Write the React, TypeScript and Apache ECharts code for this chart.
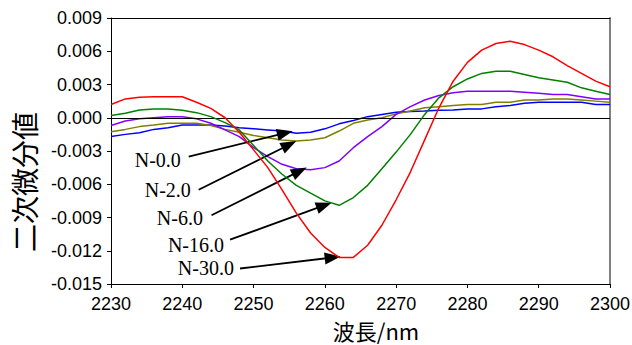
import React, { useEffect, useRef } from "react";
import * as echarts from "echarts";

const wavelengths = [
  2230, 2232, 2234, 2236, 2238, 2240, 2242, 2244, 2246, 2248, 2250, 2252,
  2254, 2256, 2258, 2260, 2262, 2264, 2266, 2268, 2270, 2272, 2274, 2276,
  2278, 2280, 2282, 2284, 2286, 2288, 2290, 2292, 2294, 2296, 2298, 2300,
];

const n00 = [
  -0.0017, -0.0015, -0.00135, -0.00105, -0.0009, -0.00066, -0.00066, -0.00066,
  -0.00075, -0.0009, -0.001, -0.0011, -0.0012, -0.0014, -0.0013, -0.001,
  -0.00055, -0.00024, 0.0001, 0.0003, 0.0005, 0.00056, 0.0006, 0.00067,
  0.0007, 0.0008, 0.0008, 0.001, 0.0011, 0.0013, 0.0014, 0.0014, 0.0014,
  0.0014, 0.0012, 0.0012,
];
const n20 = [
  -0.00126, -0.00105, -0.0008, -0.00066, -0.0005, -0.0005, -0.0005, -0.0007,
  -0.00105, -0.0013, -0.0016, -0.0018, -0.002, -0.0021, -0.002, -0.0018,
  -0.0012, -0.0005, -0.0002, 0.0, 0.00035, 0.0006, 0.0009, 0.001, 0.0011,
  0.0012, 0.0012, 0.0014, 0.0014, 0.0016, 0.0016, 0.0017, 0.0017, 0.0016,
  0.0015, 0.0014,
];
const n60 = [
  -0.0007, -0.0003, -0.0001, 0.0, 0.0001, 0.0001, -0.0001, -0.0005, -0.0011,
  -0.0017, -0.0027, -0.0035, -0.0042, -0.0046, -0.0047, -0.0045, -0.0039,
  -0.0027, -0.0017, -0.0008, 0.0003, 0.001, 0.0016, 0.002, 0.00225, 0.0024,
  0.0024, 0.0024, 0.0024, 0.0023, 0.0022, 0.0021, 0.0021, 0.0019, 0.0017,
  0.0017,
];
const n160 = [
  0.0002, 0.0004, 0.0007, 0.0008, 0.0008, 0.00067, 0.00046, 0.0001, -0.00044,
  -0.0011, -0.0025, -0.0039, -0.0051, -0.0061, -0.0068, -0.0075, -0.0079,
  -0.0072, -0.0061, -0.0046, -0.0031, -0.0015, 0.0003, 0.0018, 0.0028,
  0.0035, 0.004, 0.0042, 0.0042, 0.0039, 0.0036, 0.0034, 0.0032, 0.0027,
  0.0024, 0.0021,
];
const n300 = [
  0.0012, 0.0017, 0.00185, 0.0019, 0.0019, 0.0019, 0.0014, 0.00085, 0.0,
  -0.0013, -0.0029, -0.0045, -0.0065, -0.0086, -0.0104, -0.0117, -0.0126,
  -0.0126, -0.0115, -0.0097, -0.0074, -0.0049, -0.002, 0.0009, 0.0033, 0.005,
  0.0061, 0.0067, 0.0069, 0.0066, 0.0061, 0.0055, 0.0047, 0.004, 0.0033,
  0.0028,
];

const seriesNames = ["N-0.0", "N-2.0", "N-6.0", "N-16.0", "N-30.0"];
const seriesValues = [n00, n20, n60, n160, n300];
const seriesColors = ["#0000FF", "#808000", "#8000FF", "#008000", "#FF0000"];

// annotation label anchors (right edge of text), arrow starts and arrow-head centres, in data units
const labelAnchors = [
  [2239.8, -0.00377],
  [2241.2, -0.0065],
  [2242.9, -0.009],
  [2245.85, -0.0115],
  [2247.25, -0.0136],
];
const arrowStarts = [
  [2240.9, -0.0035],
  [2242.3, -0.0065],
  [2244.1, -0.0088],
  [2246.7, -0.011],
  [2248.1, -0.0136],
];
const arrowEnds = [
  [2254.4, -0.00138],
  [2255.0, -0.00243],
  [2256.45, -0.00482],
  [2259.9, -0.00791],
  [2261.1, -0.01261],
];

const xTicks = { min: 2230, max: 2300, interval: 10 };
const yTicks = { min: -0.015, max: 0.009, interval: 0.003 };
const xTitle = "波長/nm";
const yTitle = "二次微分値";

export default function App() {
  const ref = useRef<HTMLDivElement>(null);
  useEffect(() => {
    document.body.style.margin = "0";
    if (!ref.current) return;
    const chart = echarts.init(ref.current, undefined, { renderer: "svg" });
    const lineSeries = seriesNames.map((name, i) => ({
      name,
      type: "line",
      data: wavelengths.map((w, j) => [w, seriesValues[i][j]]),
      showSymbol: false,
      symbol: "none",
      lineStyle: { color: seriesColors[i], width: 1.5 },
      itemStyle: { color: seriesColors[i] },
      silent: true,
      z: 2 + i,
    }));
    const labelFont = { fontFamily: "Liberation Sans", fontSize: 18, color: "#000" };
    chart.setOption({
      animation: false,
      backgroundColor: "#fff",
      grid: { left: 111, right: 22, top: 18, bottom: 61, outerBoundsMode: "none", containLabel: false },
      xAxis: [
        {
          type: "value",
          ...xTicks,
          position: "bottom",
          axisLine: { show: true, onZero: false, lineStyle: { color: "#000", width: 1 } },
          axisTick: { show: true, inside: false, length: 4, lineStyle: { color: "#000" } },
          axisLabel: { ...labelFont, margin: 13, lineHeight: 14, formatter: (v: number) => String(v) },
          splitLine: { show: false },
        },
        {
          type: "value",
          ...xTicks,
          position: "top",
          axisLine: { show: true, onZero: false, lineStyle: { color: "#000", width: 1 } },
          axisTick: { show: false },
          axisLabel: { show: false },
          splitLine: { show: false },
        },
      ],
      yAxis: [
        {
          type: "value",
          ...yTicks,
          position: "left",
          axisLine: { show: true, onZero: false, lineStyle: { color: "#000", width: 1 } },
          axisTick: { show: true, inside: false, length: 4, lineStyle: { color: "#000" } },
          axisLabel: { ...labelFont, margin: 9, formatter: (v: number) => v.toFixed(3) },
          splitLine: { show: false },
        },
        {
          type: "value",
          ...yTicks,
          position: "right",
          axisLine: { show: true, onZero: false, lineStyle: { color: "#808080", width: 2 } },
          axisTick: { show: false },
          axisLabel: { show: false },
          splitLine: { show: false },
        },
      ],
      series: [
        ...lineSeries,
        {
          name: "annotations",
          type: "scatter",
          symbolSize: 0,
          silent: true,
          z: 10,
          data: seriesNames.map((name, i) => ({ name, value: labelAnchors[i] })),
          label: {
            show: true,
            position: "left",
            distance: 0,
            formatter: "{b}",
            fontFamily: "Liberation Serif",
            fontSize: 20,
            color: "#000",
            textBorderWidth: 0,
            opacity: 1,
          },
          markLine: {
            silent: true,
            animation: false,
            symbol: ["none", "triangle"],
            symbolSize: [12, 16],
            label: { show: false },
            lineStyle: { color: "#000", width: 1.8, type: "solid", opacity: 1 },
            itemStyle: { color: "#000" },
            emphasis: { disabled: true },
            data: arrowStarts.map((s, i) => [{ coord: s }, { coord: arrowEnds[i] }]),
          },
        },
        {
          name: "zero",
          type: "line",
          data: [],
          markLine: {
            silent: true,
            symbol: ["none", "none"],
            label: { show: false },
            lineStyle: { color: "#000", width: 1, type: "solid" },
            emphasis: { disabled: true },
            data: [{ yAxis: 0 }],
          },
          z: 1,
        },
      ],
      graphic: [
        {
          type: "text",
          x: 24,
          y: 182,
          rotation: Math.PI / 2,
          style: {
            text: yTitle,
            font: '28px "Noto Sans CJK JP"',
            fill: "#000",
            textAlign: "center",
            textVerticalAlign: "middle",
          },
        },
        {
          type: "text",
          x: 376,
          y: 330,
          style: {
            text: xTitle,
            font: '22px "Noto Sans CJK JP"',
            lineHeight: 22,
            fill: "#000",
            textAlign: "center",
            textVerticalAlign: "middle",
          },
        },
      ],
    });
    return () => chart.dispose();
  }, []);
  return <div ref={ref} style={{ width: 632, height: 345 }} />;
}
